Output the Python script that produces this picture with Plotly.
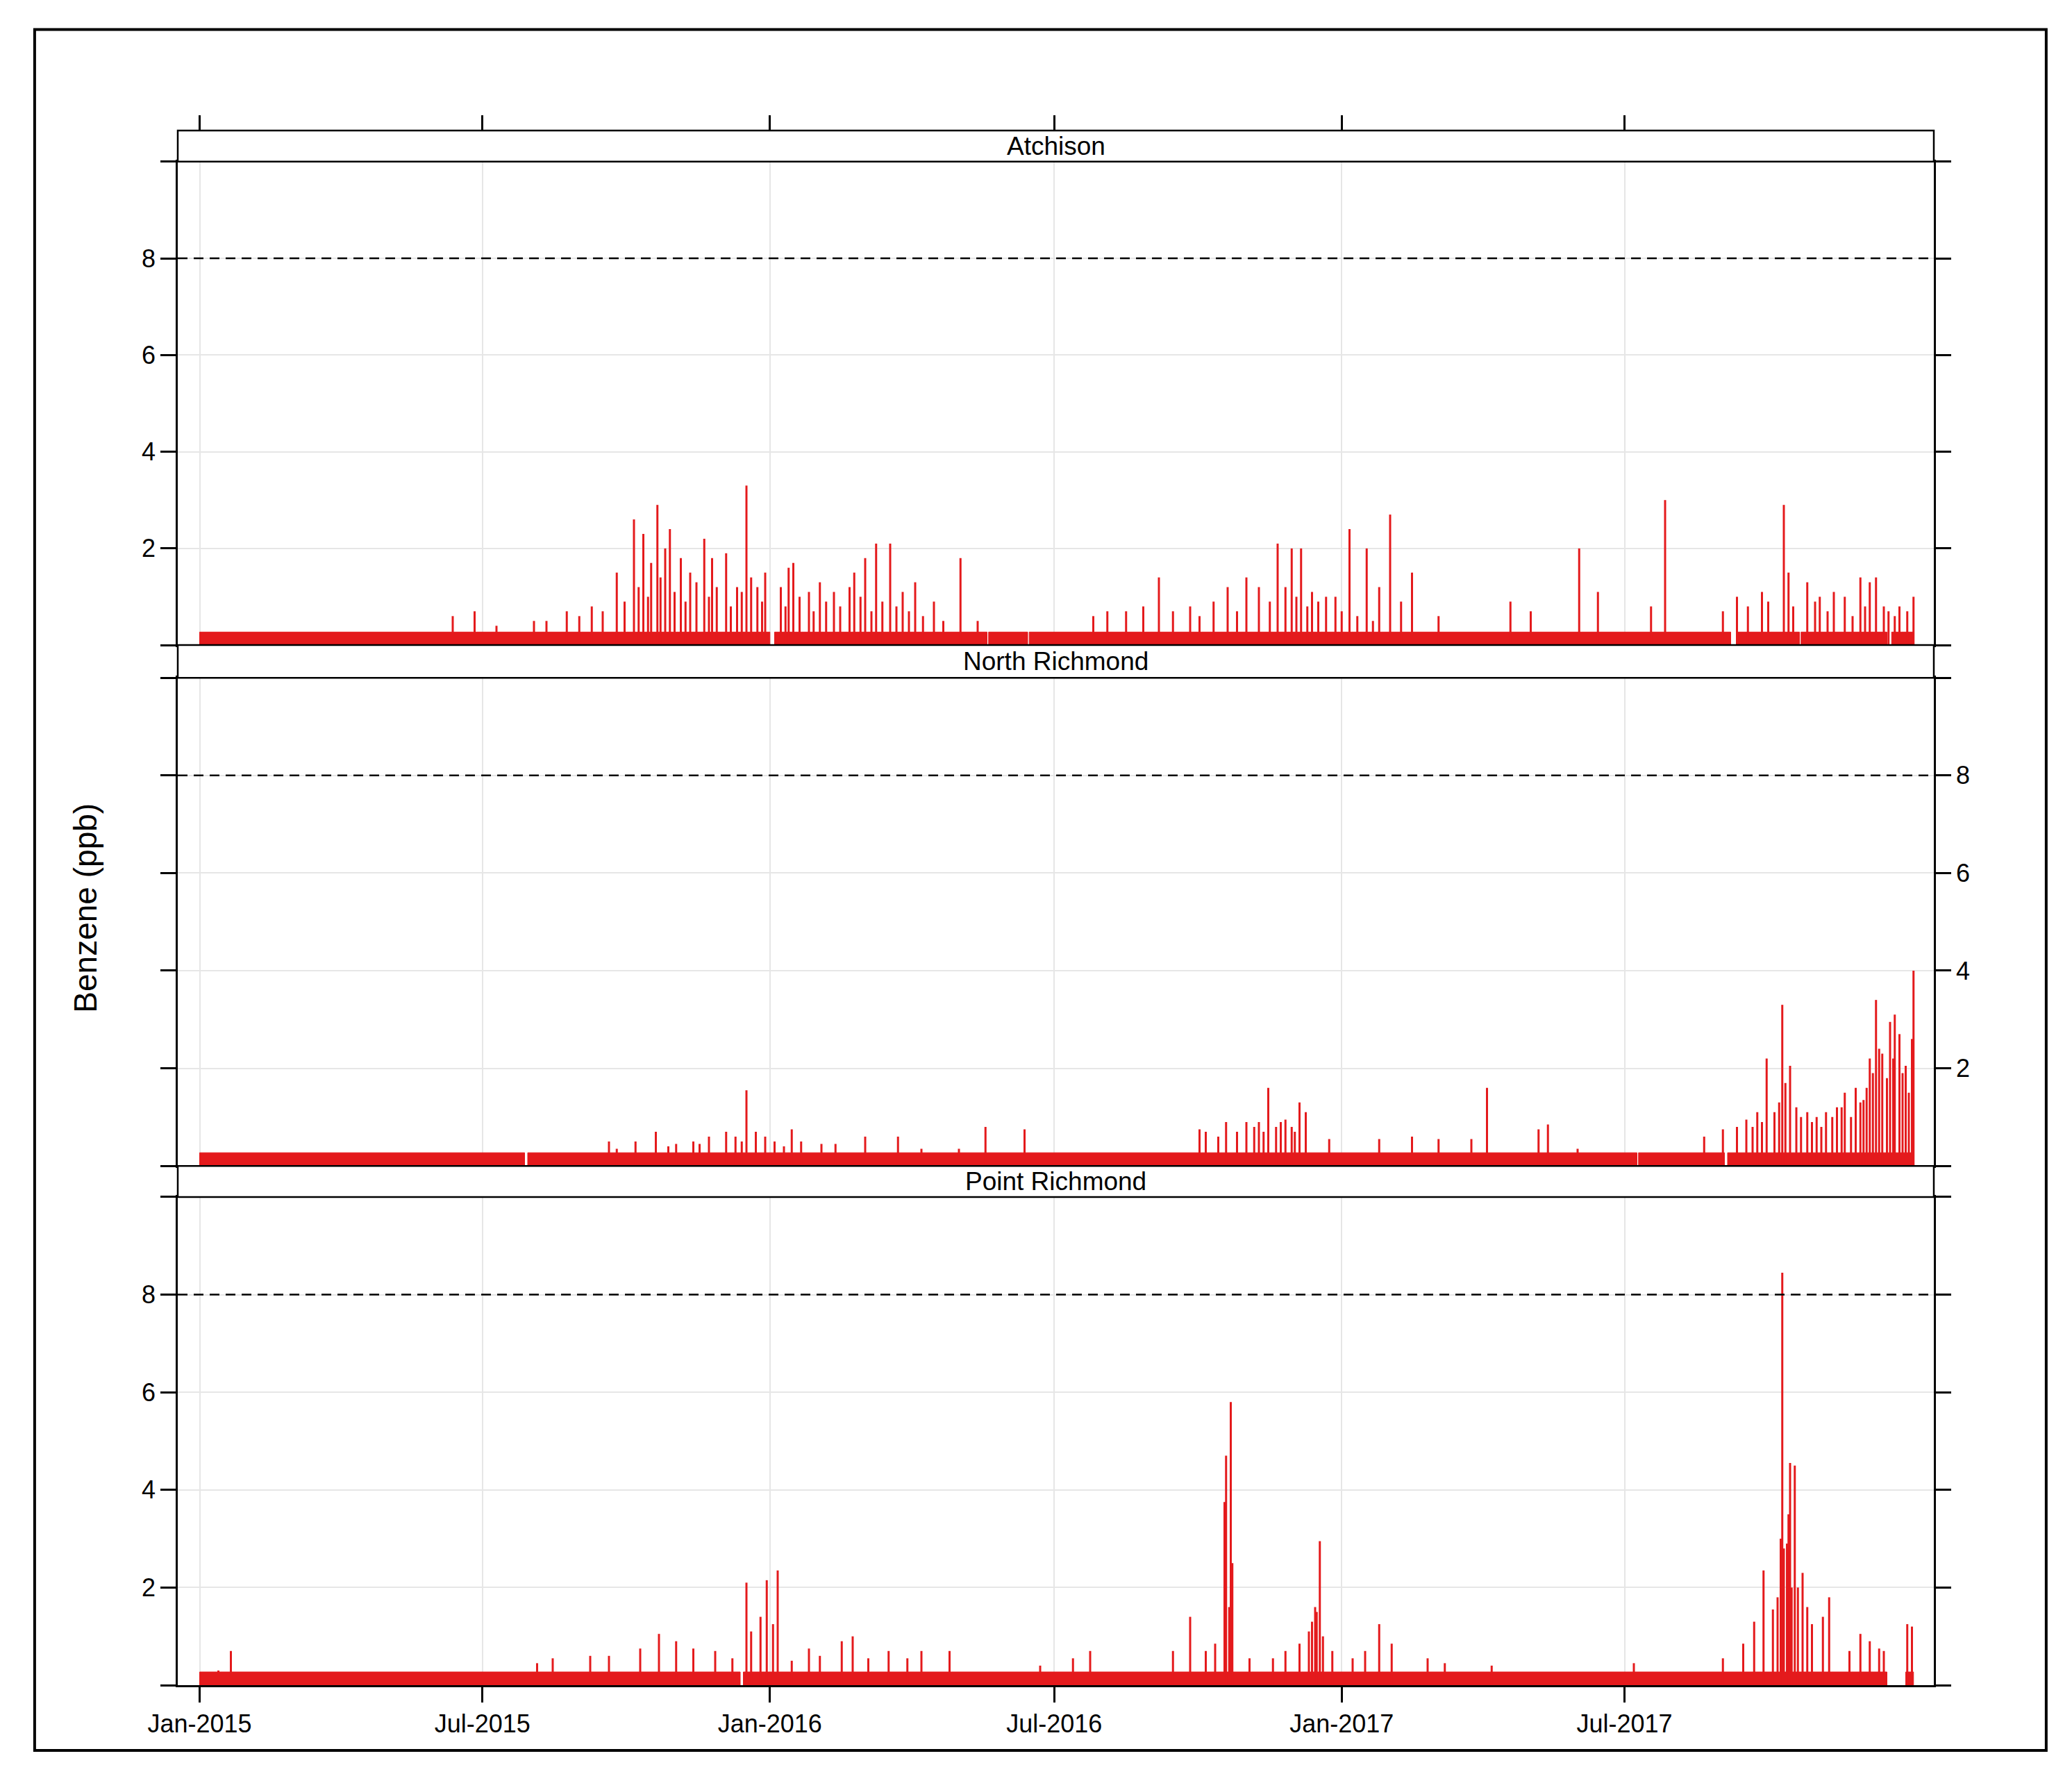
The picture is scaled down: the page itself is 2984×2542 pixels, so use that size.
import pandas as pd
import plotly.graph_objects as go

start = pd.Timestamp("2015-01-01")

# spikes: day offset from 2015-01-01, benzene value (ppb)
atchison_days = [162, 176, 190, 214, 235, 251, 267, 278, 284, 289, 293, 298, 301, 308, 314, 323, 328,
                 337, 344, 350, 357, 362, 372, 377, 380, 390, 397, 406, 416, 419, 426, 433, 442, 450,
                 458, 470, 487, 498, 572, 581, 593, 604, 614, 623, 634, 649, 658, 670, 678, 690, 695,
                 699, 705, 712, 721, 727, 736, 747, 755, 762, 769, 776, 793, 839, 852, 883, 895, 929,
                 938, 975, 984, 991, 1000, 1014, 1017, 1029, 1037, 1046, 1053, 1063, 1069, 1073, 1078,
                 1088, 1093, 1097,
                 222, 243, 258, 272, 281, 287, 295, 304, 311, 318, 326, 331, 340, 347, 353, 360, 375,
                 384, 393, 401, 410, 423, 430, 437, 446, 454, 463, 476, 640, 664, 685, 702, 709, 716,
                 731, 741, 751, 1004, 1020, 1034, 1042, 1058, 1066, 1081, 1085]
atchison_vals = [0.6, 0.7, 0.4, 0.5, 0.7, 0.8, 1.5, 2.6, 2.3, 1.7, 2.9, 2.0, 2.4, 1.8, 1.5, 2.2, 1.8,
                 1.9, 1.2, 3.3, 1.2, 1.5, 1.2, 1.6, 1.7, 1.1, 1.3, 1.1, 1.2, 1.5, 1.8, 2.1, 2.1, 1.1,
                 1.3, 0.9, 1.8, 0.5, 0.6, 0.7, 0.7, 0.8, 1.4, 0.7, 0.8, 0.9, 1.2, 1.4, 1.2, 2.1, 1.2,
                 2.0, 2.0, 1.1, 1.0, 1.0, 2.4, 2.0, 1.2, 2.7, 0.9, 1.5, 0.6, 0.9, 0.7, 2.0, 1.1, 0.8,
                 3.0, 0.7, 1.0, 0.8, 1.1, 2.9, 1.5, 1.3, 1.0, 1.1, 1.0, 1.4, 1.3, 1.4, 0.8,
                 0.8, 0.7, 1.0,
                 0.5, 0.6, 0.7, 0.9, 1.2, 1.0, 1.4, 1.1, 0.9, 1.3, 1.0, 1.2, 0.8, 1.1, 1.4, 0.9, 0.8,
                 1.0, 0.7, 0.9, 0.8, 1.0, 0.7, 0.9, 0.8, 0.7, 0.6, 0.5, 0.6, 0.7, 0.9, 1.0, 0.8, 0.9,
                 0.7, 0.6, 0.5, 0.9, 0.8, 0.9, 0.7, 0.6, 0.8, 0.7, 0.6]
north_days = [262, 267, 279, 292, 305, 316, 326, 337, 350, 356, 362, 379, 385, 398, 407, 426, 447, 462,
              486, 503, 528, 640, 644, 657, 670, 678, 684, 689, 695, 704, 708, 723, 755, 776, 793, 814,
              824, 857, 863, 882, 963, 975, 984, 990, 997, 1003, 1008, 1013, 1018, 1022, 1029, 1035,
              1041, 1048, 1053, 1060, 1065, 1069, 1073, 1077, 1082, 1085, 1088, 1092, 1094, 1097,
              300, 320, 343, 347, 368, 374, 652, 664, 675, 681, 692, 699, 701, 994, 1000, 1011, 1015,
              1025, 1032, 1038, 1045, 1051, 1057, 1063, 1067, 1071, 1075, 1080, 1084, 1090, 1096]
north_vals = [0.5, 0.35, 0.5, 0.7, 0.45, 0.5, 0.6, 0.7, 1.55, 0.7, 0.6, 0.75, 0.5, 0.45, 0.45, 0.6, 0.6,
              0.35, 0.35, 0.8, 0.75, 0.75, 0.7, 0.9, 0.9, 0.9, 1.6, 0.8, 0.95, 1.3, 1.1, 0.55, 0.55,
              0.6, 0.55, 0.55, 1.6, 0.75, 0.85, 0.35, 0.6, 0.75, 0.8, 0.95, 1.1, 2.2, 1.1, 3.3, 2.05,
              1.2, 1.1, 1.0, 1.1, 1.2, 1.5, 1.6, 1.35, 2.2, 3.4, 2.3, 2.95, 3.1, 2.7, 2.05, 1.5, 4.0,
              0.4, 0.45, 0.6, 0.5, 0.5, 0.4, 0.6, 0.7, 0.8, 0.7, 0.9, 0.8, 0.7, 0.8, 0.9, 1.3, 1.7,
              1.0, 0.9, 0.8, 1.0, 1.2, 1.0, 1.3, 1.6, 1.9, 2.4, 1.8, 2.2, 1.9, 2.6]
point_days = [12, 20, 216, 226, 250, 262, 282, 294, 305, 316, 330, 341, 350, 353, 359, 363, 367, 370,
              379, 390, 397, 411, 418, 428, 441, 453, 462, 480, 538, 559, 570, 623, 634, 644, 650, 656,
              660, 672, 687, 695, 704, 710, 715, 717, 725, 738, 746, 755, 763, 786, 797, 827, 918, 975,
              988, 995, 1001, 1007, 1013, 1016, 1018, 1021, 1026, 1032, 1039, 1043, 1056, 1063, 1069,
              1075, 1078, 1093, 1096,
              657, 659, 661, 712, 714, 719, 1010, 1012, 1014, 1017, 1019, 1023, 1029]
point_vals = [0.3, 0.7, 0.45, 0.55, 0.6, 0.6, 0.75, 1.05, 0.9, 0.75, 0.7, 0.55, 2.1, 1.1, 1.4, 2.15,
              1.25, 2.35, 0.5, 0.75, 0.6, 0.9, 1.0, 0.55, 0.7, 0.55, 0.7, 0.7, 0.4, 0.55, 0.7, 0.7, 1.4,
              0.7, 0.85, 3.75, 5.8, 0.55, 0.55, 0.7, 0.85, 1.1, 1.5, 2.95, 0.7, 0.55, 0.7, 1.25, 0.85,
              0.55, 0.45, 0.4, 0.45, 0.55, 0.85, 1.3, 2.35, 1.55, 8.45, 2.9, 4.55, 4.5, 2.3, 1.25, 1.4,
              1.8, 0.7, 1.05, 0.9, 0.75, 0.7, 1.25, 1.2,
              4.7, 1.6, 2.5, 1.3, 1.6, 1.0, 1.8, 3.0, 2.8, 3.5, 2.0, 2.0, 1.6]

# periods with valid data at the detection-limit baseline (start day, end day)
atchison_periods = [(0, 365), (368, 504), (505, 530), (531, 980), (984, 1024), (1025, 1080), (1083, 1097)]
north_periods = [(0, 208), (210, 920), (921, 976), (978, 1097)]
point_periods = [(0, 346), (348, 1080), (1092, 1097)]
baseline = 0.27

sites = ["Atchison", "North Richmond", "Point Richmond"]
site_data = [(atchison_days, atchison_vals, atchison_periods),
             (north_days, north_vals, north_periods),
             (point_days, point_vals, point_periods)]

red = "#E41A1C"
domains = [(0.669, 0.980), (0.334, 0.648), (0.0, 0.314)]
strips = [(0.980, 1.0), (0.648, 0.669), (0.314, 0.334)]
font = "Liberation Sans, Arial, sans-serif"


def ax(letter, n):
    return letter if n == 1 else f"{letter}{n}"


fig = go.Figure()
shapes = []
annotations = []

for i, (site, (days, vals, periods)) in enumerate(zip(sites, site_data)):
    n = i + 1
    xs, ys = [], []
    for a, b in periods:
        da, db = start + pd.Timedelta(days=a), start + pd.Timedelta(days=b)
        xs += [da, da, db, db, None]
        ys += [0, baseline, baseline, 0, None]
    fig.add_trace(go.Scatter(x=xs, y=ys, fill="toself", fillcolor=red, mode="lines",
                             line=dict(color=red, width=1), xaxis=ax("x", n), yaxis=ax("y", n),
                             showlegend=False, hoverinfo="skip"))
    sx, sy = [], []
    for d, v in sorted(zip(days, vals)):
        t = start + pd.Timedelta(days=d)
        sx += [t, t, None]
        sy += [0, v, None]
    fig.add_trace(go.Scatter(x=sx, y=sy, mode="lines", line=dict(color=red, width=3),
                             xaxis=ax("x", n), yaxis=ax("y", n), showlegend=False))

    shapes.append(dict(type="line", xref=ax("x", n) + " domain", yref=ax("y", n), x0=0, x1=1, y0=8, y1=8,
                       line=dict(color="black", width=2.5, dash="14px,9px")))
    s0, s1 = strips[i]
    shapes.append(dict(type="rect", xref="paper", yref="paper", x0=0, x1=1, y0=s0, y1=s1,
                       line=dict(color="black", width=2.5), fillcolor="white"))
    annotations.append(dict(text=site, xref="paper", yref="paper", x=0.5, y=(s0 + s1) / 2,
                            yanchor="middle", xanchor="center", showarrow=False,
                            font=dict(size=37, color="black", family=font)))

xrange = [start - pd.Timedelta(days=14), start + pd.Timedelta(days=1110)]
tickvals = pd.to_datetime(["2015-01-01", "2015-07-01", "2016-01-01", "2016-07-01", "2017-01-01", "2017-07-01"])
ticktext = ["Jan-2015", "Jul-2015", "Jan-2016", "Jul-2016", "Jan-2017", "Jul-2017"]

layout = dict(width=2984, height=2542, plot_bgcolor="white", paper_bgcolor="white",
              margin=dict(l=248, r=207, t=180, b=123), shapes=shapes)

for i in range(3):
    n = i + 1
    xa = dict(domain=[0, 1], range=xrange, anchor=ax("y", n), tickvals=tickvals, ticktext=ticktext,
              showgrid=True, gridcolor="#E6E6E6", gridwidth=2, showline=True, linecolor="black",
              linewidth=2.5, mirror=True, zeroline=False,
              tickfont=dict(size=36, color="black", family=font))
    if n == 3:
        xa.update(ticks="outside", ticklen=22, tickwidth=2.5, tickcolor="black")
    else:
        xa.update(ticks="", showticklabels=False)
    if n > 1:
        xa["matches"] = "x"
    layout[ax("xaxis", n)] = xa
    layout[ax("yaxis", n)] = dict(domain=list(domains[i]), range=[0, 10], anchor=ax("x", n),
                                  tickvals=[0, 2, 4, 6, 8, 10], ticktext=["", "2", "4", "6", "8", ""],
                                  ticks="outside", ticklen=22, tickwidth=2.5, tickcolor="black",
                                  showline=True, linecolor="black", linewidth=2.5, mirror="ticks",
                                  showgrid=True, gridcolor="#E6E6E6", gridwidth=2, zeroline=False,
                                  side="right" if n == 2 else "left",
                                  tickfont=dict(size=36, color="black", family=font))

# top ticks above the first strip
layout["xaxis4"] = dict(overlaying="x", anchor="free", position=1.0, side="top", range=xrange,
                        tickvals=tickvals, showticklabels=False, ticks="outside", ticklen=22,
                        tickwidth=2.5, tickcolor="black", showgrid=False, showline=False, zeroline=False)
fig.add_trace(go.Scatter(x=[tickvals[0]], y=[0], xaxis="x4", yaxis="y", mode="markers",
                         marker=dict(opacity=0), showlegend=False, hoverinfo="skip"))

annotations.append(dict(text="Benzene (ppb)", xref="paper", yref="paper", x=-0.064, y=0.5,
                        textangle=-90, showarrow=False,
                        font=dict(size=46, color="black", family=font)))
shapes.append(dict(type="rect", xref="paper", yref="paper", x0=-0.0815, x1=1.064, y0=-0.042, y1=1.065,
                   line=dict(color="black", width=4)))
layout["annotations"] = annotations

fig.update_layout(**layout)
fig.write_html("out.html")
